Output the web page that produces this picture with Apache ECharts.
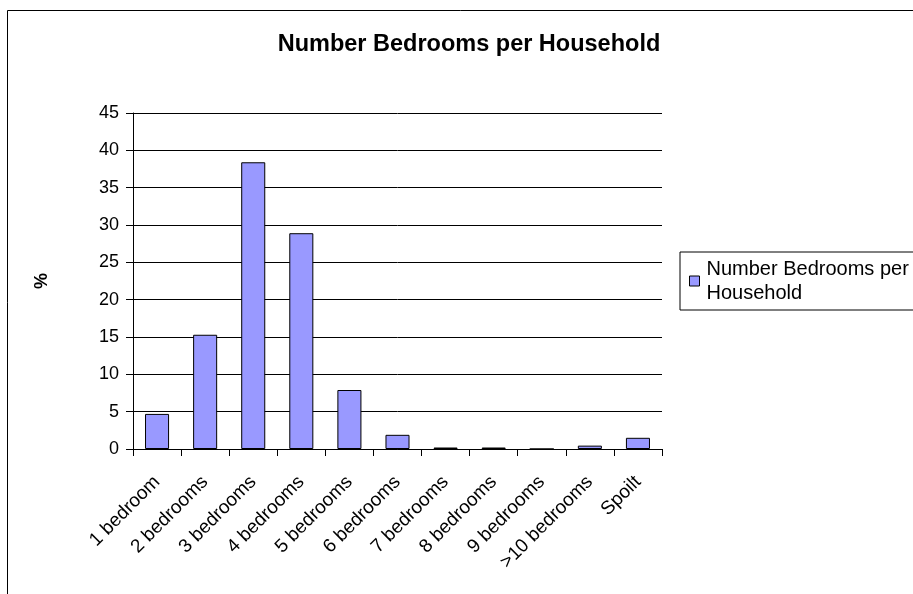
<!DOCTYPE html>
<html>
<head>
<meta charset="utf-8">
<script src="https://cdn.jsdelivr.net/npm/echarts@6/dist/echarts.min.js"></script>
<style>html,body{margin:0;padding:0;background:#fff;}#c{width:913px;height:594px;}</style>
</head>
<body>
<div id="c"></div>
<script>
const categories = ['1 bedroom','2 bedrooms','3 bedrooms','4 bedrooms','5 bedrooms','6 bedrooms','7 bedrooms','8 bedrooms','9 bedrooms','>10 bedrooms','Spoilt'];
const values = [4.7, 15.3, 38.4, 28.9, 7.9, 1.9, 0.2, 0.2, 0, 0.45, 1.5];
const seriesName = 'Number Bedrooms per Household';
const yTicks = {min: 0, max: 45, interval: 5};

const chart = echarts.init(document.getElementById('c'), null, {renderer: 'canvas'});
const font = 'Liberation Sans, Arial, sans-serif';
chart.setOption({
  animation: false,
  backgroundColor: '#fff',
  title: {
    text: 'Number Bedrooms per Household',
    left: 464, textAlign: 'center', top: 28,
    textStyle: {fontFamily: font, fontSize: 23.5, fontWeight: 'bold', color: '#000'}
  },
  graphic: [{
    type: 'rect', shape: {x: 7.5, y: 10.5, width: 1000, height: 700},
    style: {fill: 'none', stroke: '#000', lineWidth: 1}, silent: true, z: -1
  }],
  legend: {
    left: 680, top: 252,
    orient: 'vertical',
    padding: [5, 60, 5, 9],
    borderColor: '#000', borderWidth: 1,
    itemWidth: 10, itemHeight: 10, itemGap: 6,
    icon: 'rect',
    formatter: function () { return 'Number Bedrooms per\nHousehold'; },
    textStyle: {fontFamily: font, fontSize: 20, color: '#000', lineHeight: 24, padding: [0,0,0,2]},
    itemStyle: {borderColor: '#000', borderWidth: 1}
  },
  grid: {left: 133, right: 251, top: 113, bottom: 145, containLabel: false},
  xAxis: {
    type: 'category', data: categories, boundaryGap: true,
    axisLine: {lineStyle: {color: '#000', width: 1}},
    axisTick: {show: true, length: 7, lineStyle: {color: '#000'}},
    axisLabel: {rotate: 45, fontFamily: font, fontSize: 19, color: '#000', margin: 30, interval: 0}
  },
  yAxis: {
    type: 'value', min: yTicks.min, max: yTicks.max, interval: yTicks.interval,
    name: '%', nameLocation: 'middle', nameGap: 82, nameRotate: 90,
    nameTextStyle: {fontFamily: font, fontSize: 18, fontWeight: 'bold', color: '#000'},
    axisLine: {show: true, lineStyle: {color: '#000', width: 1}},
    axisTick: {show: true, length: 7, lineStyle: {color: '#000'}},
    axisLabel: {fontFamily: font, fontSize: 18, color: '#000', margin: 14},
    splitLine: {show: true, lineStyle: {color: '#000', width: 1}}
  },
  series: [{
    name: seriesName, type: 'bar', data: values,
    barCategoryGap: '50%',
    itemStyle: {color: '#9999ff', borderColor: '#000', borderWidth: 1}
  }]
});
</script>
</body>
</html>
